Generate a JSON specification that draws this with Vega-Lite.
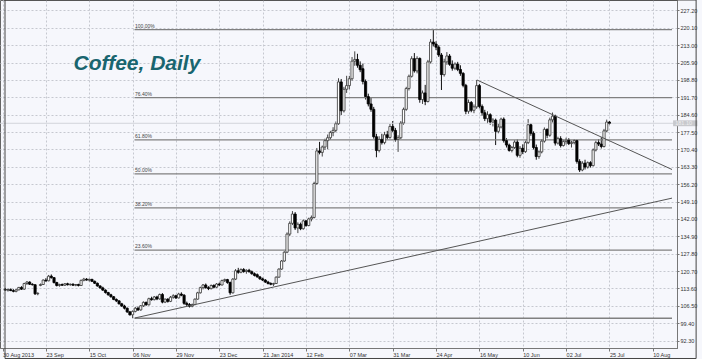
{
"$schema": "https://vega.github.io/schema/vega-lite/v6.json",
"width": 677, "height": 348,
"autosize": {"type": "none"},
"padding": {"left": 0, "top": 0, "right": 25, "bottom": 11},
"background": "#f6f7fc",
"config": {"view": {"stroke": "#666666", "fill": "#f6f7fc"}, "font": "Liberation Sans"},
"datasets": {
"candles": [
{"i":1,"o":113.2,"h":113.8,"l":112.6,"c":112.9},{"i":2,"o":112.9,"h":113.5,"l":112.3,"c":113.1},{"i":3,"o":113.1,"h":113.6,"l":112.5,"c":112.7},{"i":4,"o":112.7,"h":113.3,"l":112.0,"c":112.4},{"i":5,"o":112.4,"h":113.4,"l":112.0,"c":113.0},{"i":6,"o":113.0,"h":114.2,"l":112.8,"c":114.0},{"i":7,"o":114.0,"h":114.5,"l":113.0,"c":113.3},{"i":8,"o":113.3,"h":115.9,"l":113.0,"c":115.6},{"i":9,"o":115.6,"h":116.6,"l":115.0,"c":116.2},{"i":10,"o":116.2,"h":116.5,"l":115.0,"c":115.3},
{"i":11,"o":115.3,"h":115.7,"l":114.8,"c":115.1},{"i":12,"o":115.1,"h":115.3,"l":110.9,"c":111.4},{"i":13,"o":111.4,"h":112.0,"l":110.8,"c":111.6},{"i":14,"o":114.8,"h":115.6,"l":114.5,"c":115.2},{"i":15,"o":115.2,"h":117.3,"l":115.0,"c":117.0},{"i":16,"o":117.0,"h":117.8,"l":116.3,"c":116.7},{"i":17,"o":116.7,"h":119.1,"l":116.5,"c":118.6},{"i":18,"o":118.6,"h":119.3,"l":117.6,"c":118.0},{"i":19,"o":118.0,"h":118.2,"l":115.6,"c":116.0},{"i":20,"o":116.0,"h":116.3,"l":114.4,"c":114.8},
{"i":21,"o":114.8,"h":115.5,"l":114.3,"c":115.2},{"i":22,"o":115.2,"h":115.6,"l":114.6,"c":114.9},{"i":23,"o":114.9,"h":115.8,"l":114.6,"c":115.5},{"i":24,"o":115.5,"h":115.9,"l":114.8,"c":115.1},{"i":25,"o":115.1,"h":115.6,"l":114.7,"c":115.3},{"i":26,"o":115.3,"h":115.7,"l":114.6,"c":114.9},{"i":27,"o":114.9,"h":115.4,"l":114.5,"c":115.2},{"i":28,"o":115.2,"h":115.5,"l":114.4,"c":114.8},{"i":29,"o":114.8,"h":117.2,"l":114.6,"c":116.9},{"i":30,"o":116.9,"h":117.9,"l":116.5,"c":117.4},
{"i":31,"o":117.4,"h":117.8,"l":116.8,"c":117.0},{"i":32,"o":117.0,"h":117.6,"l":116.4,"c":117.3},{"i":33,"o":117.3,"h":117.5,"l":116.2,"c":116.5},{"i":34,"o":116.5,"h":116.8,"l":115.4,"c":115.7},{"i":35,"o":115.7,"h":116.0,"l":114.3,"c":114.6},{"i":36,"o":114.6,"h":114.9,"l":113.5,"c":113.8},{"i":37,"o":113.8,"h":114.3,"l":112.6,"c":112.9},{"i":38,"o":112.9,"h":113.2,"l":111.5,"c":111.9},{"i":39,"o":111.9,"h":112.2,"l":110.6,"c":111.0},{"i":40,"o":111.0,"h":111.4,"l":109.8,"c":110.2},
{"i":41,"o":110.2,"h":110.5,"l":108.8,"c":109.1},{"i":42,"o":109.1,"h":109.5,"l":108.0,"c":108.5},{"i":43,"o":108.5,"h":108.8,"l":107.0,"c":107.3},{"i":44,"o":107.3,"h":107.7,"l":106.0,"c":106.4},{"i":45,"o":106.4,"h":106.9,"l":105.0,"c":105.5},{"i":46,"o":105.5,"h":105.8,"l":103.6,"c":104.0},{"i":47,"o":104.0,"h":104.4,"l":102.5,"c":102.8},{"i":48,"o":102.8,"h":104.6,"l":101.4,"c":104.2},{"i":49,"o":104.2,"h":106.0,"l":103.8,"c":105.5},{"i":50,"o":105.5,"h":106.2,"l":104.4,"c":104.8},
{"i":51,"o":104.8,"h":106.8,"l":104.5,"c":106.5},{"i":52,"o":106.5,"h":108.3,"l":106.0,"c":107.9},{"i":53,"o":107.9,"h":108.2,"l":106.5,"c":106.9},{"i":54,"o":106.9,"h":109.8,"l":106.6,"c":109.4},{"i":55,"o":109.4,"h":110.2,"l":108.6,"c":109.0},{"i":56,"o":109.0,"h":110.5,"l":108.7,"c":110.1},{"i":57,"o":110.1,"h":110.6,"l":108.8,"c":109.3},{"i":58,"o":109.3,"h":111.5,"l":109.0,"c":111.1},{"i":59,"o":111.1,"h":111.7,"l":107.5,"c":108.0},{"i":60,"o":108.0,"h":109.5,"l":107.6,"c":109.2},
{"i":61,"o":109.2,"h":109.6,"l":107.8,"c":108.3},{"i":62,"o":108.3,"h":110.5,"l":108.0,"c":110.0},{"i":63,"o":110.0,"h":111.2,"l":109.4,"c":110.6},{"i":64,"o":110.6,"h":111.0,"l":109.3,"c":109.7},{"i":65,"o":109.7,"h":111.8,"l":109.5,"c":111.3},{"i":66,"o":111.3,"h":112.0,"l":110.4,"c":110.8},{"i":67,"o":110.8,"h":111.3,"l":106.9,"c":107.5},{"i":68,"o":107.5,"h":108.2,"l":106.4,"c":107.0},{"i":69,"o":107.0,"h":107.6,"l":105.8,"c":106.3},{"i":70,"o":106.3,"h":107.4,"l":105.9,"c":107.0},
{"i":71,"o":107.0,"h":109.5,"l":106.7,"c":109.2},{"i":72,"o":109.2,"h":112.2,"l":109.0,"c":111.8},{"i":73,"o":111.8,"h":114.3,"l":111.5,"c":113.9},{"i":74,"o":113.9,"h":115.4,"l":113.2,"c":115.0},{"i":75,"o":115.0,"h":115.6,"l":113.5,"c":113.9},{"i":76,"o":113.9,"h":114.5,"l":112.9,"c":113.5},{"i":77,"o":113.5,"h":115.2,"l":113.2,"c":114.8},{"i":78,"o":114.8,"h":115.3,"l":113.6,"c":114.1},{"i":79,"o":114.1,"h":115.8,"l":113.8,"c":115.4},{"i":80,"o":115.4,"h":116.0,"l":114.6,"c":115.0},
{"i":81,"o":115.0,"h":117.2,"l":114.8,"c":116.8},{"i":82,"o":116.8,"h":117.6,"l":116.2,"c":117.2},{"i":83,"o":117.2,"h":117.5,"l":115.5,"c":116.0},{"i":84,"o":116.0,"h":116.4,"l":111.0,"c":111.8},{"i":85,"o":111.8,"h":117.8,"l":111.5,"c":117.4},{"i":86,"o":117.4,"h":121.5,"l":117.0,"c":120.8},{"i":87,"o":120.8,"h":122.0,"l":119.6,"c":120.2},{"i":88,"o":120.2,"h":121.8,"l":119.8,"c":121.3},{"i":89,"o":121.3,"h":121.9,"l":120.0,"c":120.5},{"i":90,"o":120.5,"h":121.4,"l":119.6,"c":121.0},
{"i":91,"o":121.0,"h":121.6,"l":120.1,"c":120.4},{"i":92,"o":120.4,"h":120.9,"l":119.2,"c":119.6},{"i":93,"o":119.6,"h":120.1,"l":118.5,"c":118.9},{"i":94,"o":119.2,"h":119.7,"l":118.0,"c":118.3},{"i":95,"o":118.3,"h":118.7,"l":117.1,"c":117.5},{"i":96,"o":117.5,"h":118.0,"l":116.6,"c":117.0},{"i":97,"o":117.0,"h":117.4,"l":115.8,"c":116.2},{"i":98,"o":116.2,"h":116.7,"l":115.2,"c":115.6},{"i":99,"o":115.6,"h":116.1,"l":114.9,"c":115.3},{"i":100,"o":115.3,"h":115.9,"l":114.6,"c":115.6},
{"i":101,"o":115.6,"h":118.5,"l":115.4,"c":118.2},{"i":102,"o":118.2,"h":121.8,"l":118.0,"c":121.5},{"i":103,"o":121.5,"h":125.2,"l":121.2,"c":124.8},{"i":104,"o":124.8,"h":128.8,"l":124.5,"c":128.4},{"i":105,"o":128.4,"h":136.5,"l":128.0,"c":135.8},{"i":106,"o":135.8,"h":141.0,"l":135.0,"c":140.2},{"i":107,"o":140.2,"h":145.2,"l":139.5,"c":144.0},{"i":108,"o":144.0,"h":144.8,"l":137.5,"c":138.3},{"i":109,"o":138.3,"h":140.6,"l":136.2,"c":139.8},{"i":110,"o":139.8,"h":140.5,"l":137.4,"c":138.0},
{"i":111,"o":138.0,"h":141.8,"l":137.6,"c":141.2},{"i":112,"o":141.2,"h":141.6,"l":138.8,"c":139.3},{"i":113,"o":139.3,"h":142.5,"l":139.0,"c":142.0},{"i":114,"o":142.0,"h":143.4,"l":141.0,"c":142.6},{"i":115,"o":142.6,"h":157.2,"l":142.2,"c":156.5},{"i":116,"o":156.5,"h":171.0,"l":156.0,"c":169.8},{"i":117,"o":169.8,"h":173.5,"l":168.4,"c":169.2},{"i":118,"o":169.2,"h":172.0,"l":167.5,"c":171.4},{"i":119,"o":171.4,"h":174.8,"l":170.2,"c":174.0},{"i":120,"o":174.0,"h":176.5,"l":170.5,"c":175.2},
{"i":121,"o":175.2,"h":178.0,"l":174.4,"c":177.3},{"i":122,"o":177.3,"h":179.5,"l":175.8,"c":178.2},{"i":123,"o":178.2,"h":181.8,"l":177.5,"c":180.9},{"i":124,"o":180.9,"h":199.5,"l":180.5,"c":198.0},{"i":125,"o":198.0,"h":199.2,"l":184.5,"c":186.2},{"i":126,"o":186.2,"h":196.0,"l":185.5,"c":195.0},{"i":127,"o":195.0,"h":200.5,"l":193.5,"c":196.5},{"i":128,"o":196.5,"h":200.5,"l":195.0,"c":199.3},{"i":129,"o":199.3,"h":208.2,"l":198.5,"c":206.5},{"i":130,"o":206.5,"h":210.5,"l":204.6,"c":207.2},
{"i":131,"o":207.2,"h":209.5,"l":203.8,"c":204.8},{"i":132,"o":204.8,"h":206.4,"l":202.0,"c":203.0},{"i":133,"o":203.4,"h":205.5,"l":197.0,"c":198.2},{"i":134,"o":198.2,"h":199.0,"l":190.8,"c":192.0},{"i":135,"o":192.0,"h":193.2,"l":188.0,"c":189.0},{"i":136,"o":189.0,"h":191.5,"l":185.8,"c":186.8},{"i":137,"o":186.8,"h":187.8,"l":174.8,"c":175.6},{"i":138,"o":175.6,"h":176.8,"l":167.2,"c":170.0},{"i":139,"o":170.0,"h":175.8,"l":169.2,"c":174.5},{"i":140,"o":174.5,"h":176.8,"l":172.4,"c":173.2},
{"i":141,"o":173.2,"h":177.6,"l":172.5,"c":176.4},{"i":142,"o":176.4,"h":178.0,"l":174.5,"c":175.3},{"i":143,"o":175.3,"h":180.8,"l":174.8,"c":179.8},{"i":144,"o":179.8,"h":182.0,"l":177.5,"c":178.2},{"i":145,"o":178.2,"h":179.2,"l":173.6,"c":174.5},{"i":146,"o":174.5,"h":176.2,"l":169.4,"c":175.2},{"i":147,"o":175.2,"h":182.0,"l":174.6,"c":181.2},{"i":148,"o":181.2,"h":187.5,"l":180.5,"c":186.8},{"i":149,"o":186.8,"h":196.0,"l":186.2,"c":195.3},{"i":150,"o":195.3,"h":201.0,"l":194.5,"c":200.3},
{"i":151,"o":200.3,"h":208.5,"l":199.8,"c":207.5},{"i":152,"o":207.5,"h":209.8,"l":201.8,"c":202.5},{"i":153,"o":202.5,"h":208.5,"l":201.5,"c":207.6},{"i":154,"o":207.6,"h":208.0,"l":189.5,"c":190.8},{"i":155,"o":190.8,"h":194.5,"l":189.0,"c":193.5},{"i":156,"o":193.5,"h":196.8,"l":188.5,"c":190.0},{"i":157,"o":190.0,"h":207.0,"l":189.6,"c":206.2},{"i":158,"o":206.2,"h":215.5,"l":205.5,"c":214.3},{"i":159,"o":214.3,"h":219.4,"l":212.5,"c":213.5},{"i":160,"o":213.5,"h":214.6,"l":211.0,"c":212.2},
{"i":161,"o":212.2,"h":213.0,"l":208.2,"c":209.0},{"i":162,"o":209.0,"h":209.8,"l":194.7,"c":201.0},{"i":163,"o":201.0,"h":207.5,"l":200.2,"c":206.2},{"i":164,"o":206.2,"h":210.2,"l":205.0,"c":208.6},{"i":165,"o":208.6,"h":209.4,"l":204.6,"c":205.2},{"i":166,"o":205.2,"h":206.8,"l":202.6,"c":203.6},{"i":167,"o":203.6,"h":206.0,"l":202.8,"c":205.3},{"i":168,"o":205.3,"h":206.2,"l":202.4,"c":203.1},{"i":169,"o":203.1,"h":204.8,"l":200.5,"c":201.5},{"i":170,"o":201.5,"h":202.0,"l":195.8,"c":196.6},
{"i":171,"o":196.6,"h":197.2,"l":184.8,"c":186.0},{"i":172,"o":186.0,"h":190.8,"l":185.0,"c":189.6},{"i":173,"o":189.6,"h":190.2,"l":185.6,"c":186.4},{"i":174,"o":186.4,"h":188.8,"l":185.2,"c":187.8},{"i":175,"o":187.8,"h":198.8,"l":187.0,"c":196.5},{"i":176,"o":196.5,"h":197.2,"l":187.2,"c":188.0},{"i":177,"o":188.0,"h":188.8,"l":184.2,"c":185.4},{"i":178,"o":185.4,"h":186.6,"l":182.0,"c":183.0},{"i":179,"o":183.0,"h":186.0,"l":181.0,"c":184.6},{"i":180,"o":184.6,"h":185.2,"l":180.5,"c":181.6},
{"i":181,"o":181.6,"h":183.2,"l":179.8,"c":182.4},{"i":182,"o":182.4,"h":183.0,"l":172.2,"c":177.8},{"i":183,"o":177.8,"h":181.0,"l":177.0,"c":179.6},{"i":184,"o":179.6,"h":183.4,"l":179.0,"c":182.8},{"i":185,"o":182.8,"h":183.5,"l":173.2,"c":174.0},{"i":186,"o":174.0,"h":175.0,"l":171.2,"c":172.2},{"i":187,"o":172.2,"h":172.8,"l":169.5,"c":170.0},{"i":188,"o":170.0,"h":171.8,"l":169.2,"c":171.2},{"i":189,"o":171.2,"h":174.2,"l":170.6,"c":173.4},{"i":190,"o":173.4,"h":174.5,"l":167.2,"c":168.0},
{"i":191,"o":168.0,"h":171.8,"l":167.0,"c":170.9},{"i":192,"o":170.9,"h":172.5,"l":168.5,"c":169.5},{"i":193,"o":169.5,"h":174.0,"l":169.0,"c":173.2},{"i":194,"o":173.2,"h":182.8,"l":172.6,"c":180.5},{"i":195,"o":180.5,"h":181.2,"l":176.0,"c":177.0},{"i":196,"o":177.0,"h":177.8,"l":170.4,"c":171.2},{"i":197,"o":171.2,"h":172.4,"l":166.2,"c":167.5},{"i":198,"o":167.5,"h":170.0,"l":166.6,"c":169.4},{"i":199,"o":169.4,"h":174.6,"l":168.8,"c":173.8},{"i":200,"o":173.8,"h":179.4,"l":173.2,"c":178.6},
{"i":201,"o":178.6,"h":179.0,"l":175.0,"c":176.2},{"i":202,"o":176.2,"h":183.4,"l":175.6,"c":182.5},{"i":203,"o":182.5,"h":185.5,"l":181.4,"c":184.0},{"i":204,"o":184.0,"h":184.6,"l":172.0,"c":173.0},{"i":205,"o":173.0,"h":175.6,"l":172.4,"c":174.8},{"i":206,"o":174.8,"h":175.8,"l":171.2,"c":172.0},{"i":207,"o":172.0,"h":174.4,"l":171.6,"c":173.6},{"i":208,"o":173.6,"h":175.2,"l":172.4,"c":174.2},{"i":209,"o":174.2,"h":175.0,"l":172.2,"c":172.8},{"i":210,"o":172.8,"h":174.0,"l":171.2,"c":173.2},
{"i":211,"o":173.2,"h":174.6,"l":172.5,"c":174.0},{"i":212,"o":174.0,"h":174.4,"l":164.6,"c":165.5},{"i":213,"o":165.5,"h":166.4,"l":161.2,"c":162.0},{"i":214,"o":162.0,"h":165.6,"l":161.5,"c":164.8},{"i":215,"o":164.8,"h":166.2,"l":162.2,"c":163.2},{"i":216,"o":163.2,"h":165.5,"l":162.6,"c":165.0},{"i":217,"o":165.0,"h":165.6,"l":163.0,"c":163.8},{"i":218,"o":163.8,"h":170.8,"l":163.4,"c":170.2},{"i":219,"o":170.2,"h":174.0,"l":169.6,"c":173.2},{"i":220,"o":173.2,"h":174.6,"l":171.8,"c":172.6},
{"i":221,"o":172.6,"h":175.4,"l":170.8,"c":171.6},{"i":222,"o":171.6,"h":178.8,"l":171.2,"c":178.0},{"i":223,"o":178.0,"h":182.6,"l":177.4,"c":181.6},{"i":224,"o":181.6,"h":182.0,"l":180.6,"c":181.1}
],
"fib": [
{"lbl":"100.00%","p":219.4},{"lbl":"76.40%","p":191.55},{"lbl":"61.80%","p":174.32},{"lbl":"50.00%","p":160.4},{"lbl":"38.20%","p":146.48},{"lbl":"23.60%","p":129.25},{"lbl":"","p":101.4}
],
"trend": [
{"name":"down","x1":175.1,"p1":198.8,"x2":247.1,"p2":162.2},
{"name":"up","x1":48.8,"p1":101.5,"x2":247.1,"p2":150.5}
],
"last": [{"p":181.1,"txt":"181.10"}],
"title": [{"t":"Coffee, Daily","i":26.2,"p":202.9}]
},
"layer": [
{
"data": {"name": "candles"},
"mark": {"type": "rule", "strokeWidth": 1},
"encoding": {
"x": {"field": "i", "type": "quantitative",
"scale": {"domain": [0.9, 247.1], "nice": false, "zero": false},
"axis": {"title": null, "values": [0,16,32,48,64,80,96,112,128,144,160,176,192,208,224,240], "tickCount": 30,
"labelExpr": "datum.value==0?'30 Aug 2013':datum.value==16?'23 Sep':datum.value==32?'15 Oct':datum.value==48?'06 Nov':datum.value==64?'29 Nov':datum.value==80?'23 Dec':datum.value==96?'21 Jan 2014':datum.value==112?'12 Feb':datum.value==128?'07 Mar':datum.value==144?'31 Mar':datum.value==160?'24 Apr':datum.value==176?'16 May':datum.value==192?'10 Jun':datum.value==208?'02 Jul':datum.value==224?'25 Jul':'10 Aug'",
"labelAlign": "left", "labelBaseline": "top", "labelFontSize": 5.5, "labelColor": "#333333", "labelPadding": 1, "labelOverlap": false, "labelFlush": false, "labelBound": false,
"tickSize": 3, "tickColor": "#777777", "domainColor": "#777777",
"grid": true, "gridColor": "#c6c8d0", "gridDash": [2, 2], "gridWidth": 1}},
"y": {"field": "l", "type": "quantitative",
"scale": {"domain": [89.24, 231.49], "nice": false, "zero": false},
"axis": {"title": null, "orient": "right", "values": [92.3,99.4,106.5,113.6,120.7,127.8,134.9,142.0,149.1,156.2,163.3,170.4,177.5,184.6,191.7,198.8,205.9,213.0,220.1,227.2], "tickCount": 30,
"format": ".2f", "labelFontSize": 5.5, "labelColor": "#333333", "labelPadding": 1, "tickSize": 2, "tickColor": "#777777", "domainColor": "#777777", "labelOverlap": false, "labelBound": false, "labelFlush": false,
"grid": true, "gridColor": "#c6c8d0", "gridDash": [2, 2], "gridWidth": 1}},
"y2": {"field": "h"},
"color": {"condition": {"test": "datum.c >= datum.o", "value": "#444444"}, "value": "#111111"}
}
},
{
"data": {"name": "last"},
"mark": {"type": "rule", "color": "#d2d4da", "strokeWidth": 1},
"encoding": {"y": {"field": "p", "type": "quantitative"}}
},
{
"data": {"name": "fib"},
"mark": {"type": "rule", "color": "#808080", "strokeWidth": 1.3},
"encoding": {"x": {"datum": 48.7}, "x2": {"datum": 247.1}, "y": {"field": "p", "type": "quantitative"}}
},
{
"data": {"name": "fib"},
"mark": {"type": "text", "align": "left", "baseline": "alphabetic", "dy": -2, "fontSize": 5, "color": "#444444"},
"encoding": {"x": {"datum": 48.9}, "y": {"field": "p", "type": "quantitative"}, "text": {"field": "lbl"}}
},
{
"data": {"name": "candles"},
"mark": {"type": "bar", "size": 2.2, "strokeWidth": 0.8},
"encoding": {
"x": {"field": "i", "type": "quantitative"},
"y": {"field": "o", "type": "quantitative"},
"y2": {"field": "c"},
"fill": {"condition": {"test": "datum.c >= datum.o", "value": "#ffffff"}, "value": "#000000"},
"stroke": {"condition": {"test": "datum.c >= datum.o", "value": "#333333"}, "value": "#000000"}
}
},
{
"data": {"name": "trend"},
"mark": {"type": "rule", "color": "#555555", "strokeWidth": 1},
"encoding": {"x": {"field": "x1", "type": "quantitative"}, "x2": {"field": "x2"}, "y": {"field": "p1", "type": "quantitative"}, "y2": {"field": "p2"}}
},
{
"data": {"name": "last"},
"mark": {"type": "rect", "color": "#c8c9cd"},
"encoding": {"x": {"datum": 247.5}, "x2": {"datum": 256.5}, "y": {"datum": 179.9}, "y2": {"datum": 182.3}}
},
{
"data": {"name": "last"},
"mark": {"type": "text", "align": "left", "baseline": "middle", "fontSize": 5.5, "color": "#eeeeee"},
"encoding": {"x": {"datum": 248.3}, "y": {"field": "p", "type": "quantitative"}, "text": {"field": "txt"}}
},
{
"data": {"name": "last"},
"mark": {"type": "rect", "fill": null, "filled": false, "stroke": "#444444", "strokeWidth": 1},
"encoding": {"x": {"datum": 0.9}, "x2": {"datum": 256.0}, "y": {"datum": 84.95}, "y2": {"datum": 231.49}}
},
{
"data": {"name": "title"},
"mark": {"type": "text", "align": "left", "baseline": "alphabetic", "fontSize": 21, "fontWeight": "bold", "fontStyle": "italic", "color": "#19656f"},
"encoding": {"x": {"field": "i", "type": "quantitative"}, "y": {"field": "p", "type": "quantitative"}, "text": {"field": "t"}}
}
]
}
